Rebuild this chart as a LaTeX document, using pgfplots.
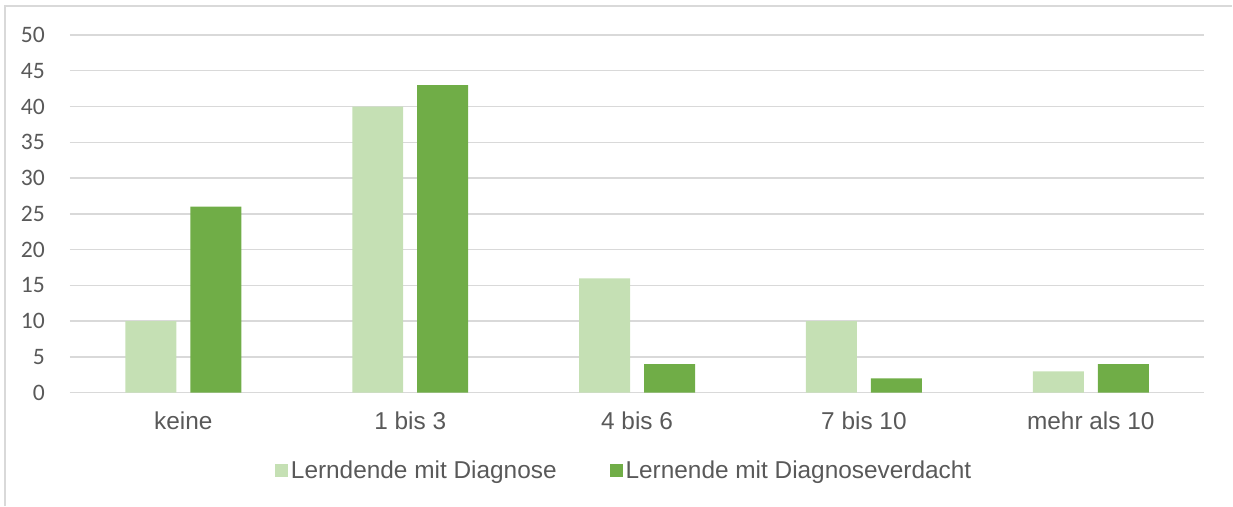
\documentclass[border=0pt]{standalone}
\usepackage{pgfplots}
\pgfplotsset{compat=1.18}
\usepackage{fontspec}
\setmainfont{Liberation Sans}
\newfontfamily\calibri{Carlito}
\definecolor{lightgreen}{HTML}{C5E0B4}
\definecolor{darkgreen}{HTML}{70AD47}
\definecolor{txtgray}{HTML}{595959}
\definecolor{gridgray}{HTML}{D9D9D9}
\begin{document}
\begin{tikzpicture}
% page size (1px = 0.5pt) and the chart frame
\path (0,0) rectangle (616.5pt,253pt);
\draw[gridgray, line width=0.8pt] (2.5pt,0) -- (2.5pt,250pt) -- (616.5pt,250pt);
\begin{axis}[
  at={(35pt,56.5pt)}, anchor=south west,
  scale only axis, width=567.5pt, height=179pt,
  xmin=-0.5, xmax=4.5, ymin=0, ymax=50,
  xtick=data,
  xticklabels={keine, 1 bis 3, 4 bis 6, 7 bis 10, mehr als 10},
  ytick={0,5,...,50},
  major tick length=0pt,
  axis line style={draw=none},
  ymajorgrids, grid style={gridgray, line width=0.7pt},
  x tick label style={font=\fontsize{12.2}{14}\selectfont, text=txtgray, yshift=-6pt},
  y tick label style={font=\calibri\fontsize{11.8}{13}\selectfont, text=txtgray, xshift=-9pt},
  /pgf/number format/assume math mode=true,
  legend columns=2,
  legend style={at={(0.489,-0.218)}, anchor=center, draw=none, fill=none,
    font=\fontsize{12.2}{14}\selectfont, text=txtgray,
    nodes={inner sep=1.5pt},
    /tikz/every even column/.append style={column sep=25pt}},
  legend image code/.code={\fill (0pt,-3.3pt) rectangle (6.5pt,3.3pt);},
]
\addplot[ybar, bar width=25.5pt, bar shift=-16.25pt, fill=lightgreen, draw=none]
  coordinates {(0,10) (1,40) (2,16) (3,10) (4,3)};
\addplot[ybar, bar width=25.5pt, bar shift=16.25pt, fill=darkgreen, draw=none]
  coordinates {(0,26) (1,43) (2,4) (3,2) (4,4)};
\legend{Lerndende mit Diagnose, Lernende mit Diagnoseverdacht}
\end{axis}
\end{tikzpicture}
\end{document}
